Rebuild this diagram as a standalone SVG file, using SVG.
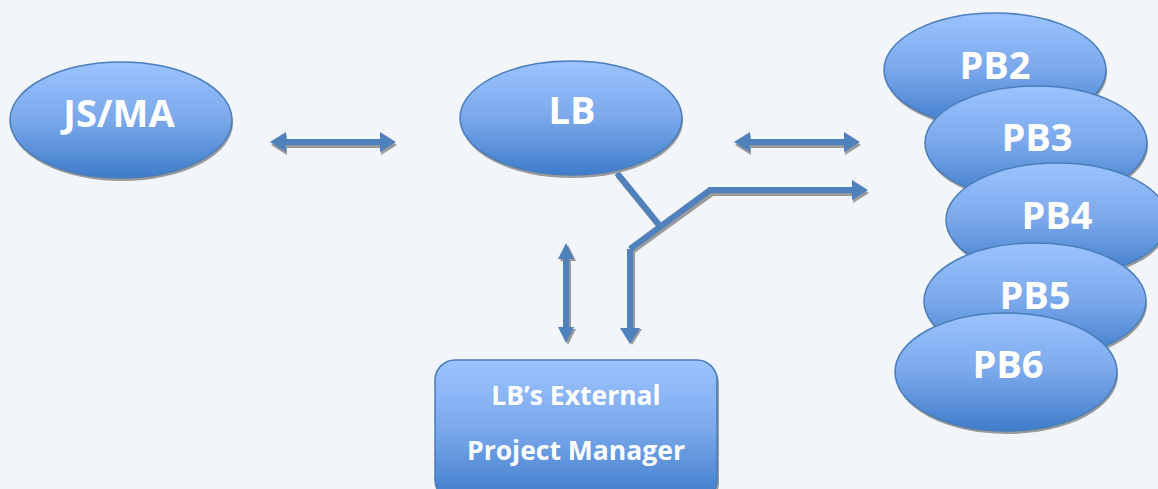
<svg xmlns="http://www.w3.org/2000/svg" xmlns:xlink="http://www.w3.org/1999/xlink" width="1158" height="489" viewBox="0 0 1158 489">
<style>
.node{fill:url(#g);stroke:#4a7ebb;stroke-width:1.5}
.shadow{fill:#9a9a9a}
.lbl{font-family:"Open Sans","Liberation Sans",sans-serif;font-weight:bold;fill:#ffffff;text-anchor:middle}
.big{font-size:38px}
.small{font-size:26.5px}
.conn{fill:none;stroke:#4f81bd;stroke-width:6;stroke-linejoin:miter}
.connsh{fill:none;stroke:#9a9a9a;stroke-width:6}
.arr{fill:#4f81bd}
.arrsh{fill:#9a9a9a}
</style>
<defs>
<linearGradient id="g" x1="0" y1="0" x2="0" y2="1">
<stop offset="0" stop-color="#9cc3ff"/>
<stop offset="0.5" stop-color="#7aa8ea"/>
<stop offset="1" stop-color="#3e7cca"/>
</linearGradient>
<polygon id="dh" points="0,0 16,-10 16,-3 110,-3 110,-10 126,0 110,10 110,3 16,3 16,10"/>
<polygon id="dv" points="0,0 8,16 3,16 3,84 8,84 0,100 -8,84 -3,84 -3,16 -8,16"/>
<marker id="mb" viewBox="0 0 16 20" refX="0" refY="10" markerWidth="16" markerHeight="20" markerUnits="userSpaceOnUse" orient="auto"><polygon points="0,0 16,10 0,20" fill="#4f81bd"/></marker>
<marker id="mg" viewBox="0 0 16 20" refX="0" refY="10" markerWidth="16" markerHeight="20" markerUnits="userSpaceOnUse" orient="auto"><polygon points="0,0 16,10 0,20" fill="#9a9a9a"/></marker>
</defs>
<rect width="1158" height="489" fill="#f2f5fa"/>

<g id="connectors">
<use href="#dh" x="271" y="145" class="arrsh"/>
<use href="#dh" x="270" y="142" class="arr"/>
<use href="#dh" x="735" y="145" class="arrsh"/>
<use href="#dh" x="734" y="142" class="arr"/>
<use href="#dv" x="568" y="245" class="arrsh"/>
<use href="#dv" x="566" y="243" class="arr"/>
<path class="connsh" d="M618,175 L662,229"/>
<path class="connsh" d="M632,251 L712,193 L853,193" marker-end="url(#mg)"/>
<path class="connsh" d="M632,251 L632,329" marker-end="url(#mg)"/>
<path class="conn" d="M617,173 L660,226"/>
<path class="conn" d="M630,249 L710,190 L852,190" marker-end="url(#mb)"/>
<path class="conn" d="M630,249 L630,328" marker-end="url(#mb)"/>
</g>

<g id="jsma">
<ellipse class="shadow" cx="122" cy="123" rx="111" ry="58"/>
<ellipse class="node" cx="121" cy="120" rx="111" ry="58"/>
<text class="lbl big" x="119" y="127">JS/MA</text>
</g>

<g id="lb">
<ellipse class="shadow" cx="572" cy="121" rx="111" ry="57"/>
<ellipse class="node" cx="571" cy="118" rx="111" ry="57"/>
<text class="lbl big" x="572" y="124">LB</text>
</g>

<g id="pm">
<rect class="shadow" x="437" y="363" width="282" height="140" rx="20"/>
<rect class="node" x="435" y="360" width="282" height="140" rx="20"/>
<text class="lbl small" x="576" y="405">LB’s External</text>
<text class="lbl small" x="576" y="460">Project Manager</text>
</g>

<g id="pb2">
<ellipse class="shadow" cx="996" cy="73" rx="111" ry="57"/>
<ellipse class="node" cx="995" cy="70" rx="111" ry="57"/>
<text class="lbl big" x="995" y="79">PB2</text>
</g>
<g id="pb3">
<ellipse class="shadow" cx="1037" cy="146" rx="111" ry="57"/>
<ellipse class="node" cx="1036" cy="143" rx="111" ry="57"/>
<text class="lbl big" x="1037" y="151">PB3</text>
</g>
<g id="pb4">
<ellipse class="shadow" cx="1058" cy="223" rx="111" ry="57"/>
<ellipse class="node" cx="1057" cy="220" rx="111" ry="57"/>
<text class="lbl big" x="1057" y="229">PB4</text>
</g>
<g id="pb5">
<ellipse class="shadow" cx="1036" cy="304" rx="111" ry="58"/>
<ellipse class="node" cx="1035" cy="301" rx="111" ry="58"/>
<text class="lbl big" x="1035" y="309">PB5</text>
</g>
<g id="pb6">
<ellipse class="shadow" cx="1007" cy="375" rx="111" ry="59"/>
<ellipse class="node" cx="1006" cy="372" rx="111" ry="59"/>
<text class="lbl big" x="1008" y="378">PB6</text>
</g>
</svg>
